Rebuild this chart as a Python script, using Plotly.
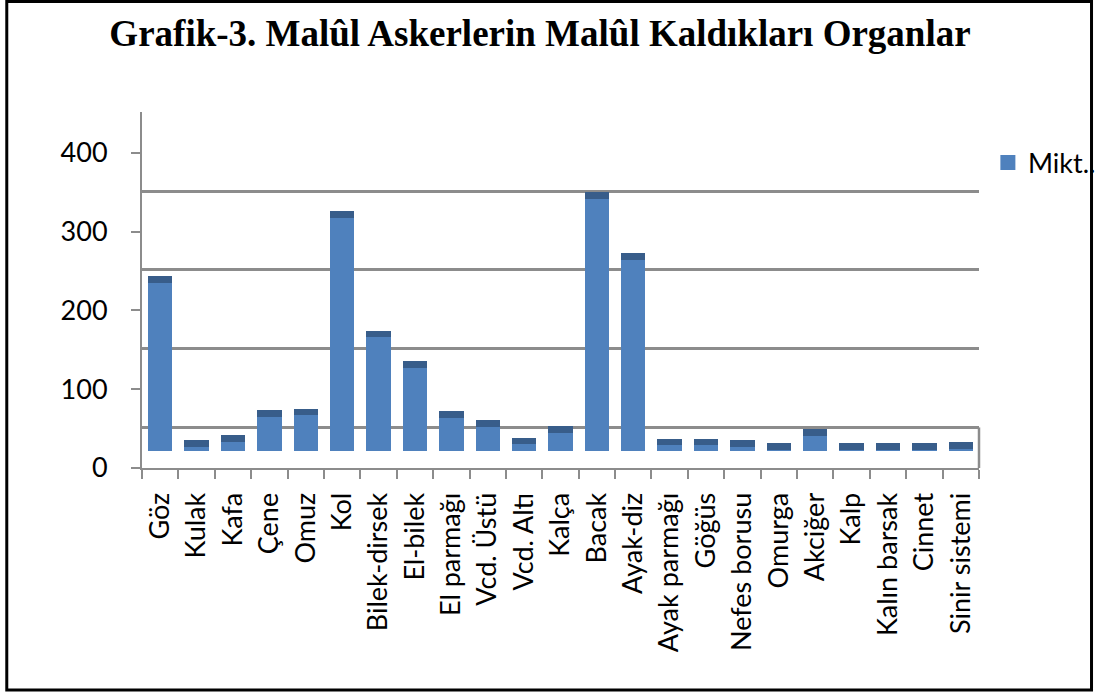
import plotly.graph_objects as go

# ---------------- data ----------------
categories = ["Göz", "Kulak", "Kafa", "Çene", "Omuz", "Kol", "Bilek-dirsek", "El-bilek",
              "El parmağı", "Vcd. Üstü", "Vcd. Altı", "Kalça", "Bacak", "Ayak-diz",
              "Ayak parmağı", "Göğüs", "Nefes borusu", "Omurga", "Akciğer", "Kalp",
              "Kalın barsak", "Cinnet", "Sinir sistemi"]
miktar = [213, 5, 11, 43, 45, 296, 144, 105, 42, 30, 8, 23, 320, 242,
          7, 7, 5, 1, 19, 1, 1, 1, 2]
y_ticks = [0, 100, 200, 300, 400]
series_name = "Mikt.."
title_text = "Grafik-3. Malûl Askerlerin Malûl Kaldıkları Organlar"

# ---------------- styling / geometry ----------------
W, H = 1113, 695
L, T = 142, 112
R = W - 990
B = H - 468
PW, PH = W - L - R, H - T - B
FRONT_TOP = 452.0            # front value-axis range top
BAR_OFFSET = 22.0            # bars stand on the mid-depth floor
BACK_OFFSET = 51.5           # back wall is raised (3-D depth)
CAP = 8.4                    # visible top face of the 3-D columns
FRONT_COLOR = "#4F81BD"
CAP_COLOR = "#385D8A"
GRID = "#8C8C8C"
LABEL_FONT = "Lato"

def px_x(p):
    return (p - L) / PW

def px_y(p):
    return 1 - (p - T) / PH

fig = go.Figure()
fig.add_trace(go.Bar(x=categories, y=miktar, name=series_name,
                     marker=dict(color=FRONT_COLOR, line=dict(width=0)),
                     showlegend=False, hoverinfo="x+y"))
fig.add_trace(go.Bar(x=categories, y=[CAP] * len(categories), name="cap",
                     marker=dict(color=CAP_COLOR, line=dict(width=0)),
                     showlegend=False, hoverinfo="skip"))
# legend entry (larger square swatch like the original)
fig.add_trace(go.Scatter(x=[None], y=[None], mode="markers", name=series_name,
                         marker=dict(symbol="square", size=15, color=FRONT_COLOR),
                         showlegend=True))
# anchor traces for overlay axes
fig.add_trace(go.Scatter(x=[], y=[], yaxis="y2", showlegend=False))
fig.add_trace(go.Scatter(x=[], y=[], yaxis="y3", showlegend=False))

fig.update_layout(
    width=W, height=H,
    margin=dict(l=L, r=R, t=T, b=B, pad=0),
    paper_bgcolor="white", plot_bgcolor="rgba(0,0,0,0)",
    barmode="stack", bargap=0.33,
    title=dict(text="<b>" + title_text + "</b>",
               font=dict(family="Liberation Serif", size=37, color="black"),
               x=540 / W, xref="container", xanchor="center",
               y=1 - 33 / H, yref="container", yanchor="middle"),
    xaxis=dict(type="category", tickangle=-90, tickson="boundaries",
               ticks="outside", ticklen=9, tickwidth=2, tickcolor=GRID,
               showline=True, linecolor=GRID, linewidth=2,
               showgrid=False, ticklabelstandoff=12, automargin=False,
               tickfont=dict(family=LABEL_FONT, size=27, color="black"),
               range=[-0.5, len(categories) - 0.5]),
    yaxis=dict(range=[-BAR_OFFSET, FRONT_TOP - BAR_OFFSET], showgrid=False,
               showticklabels=False, ticks="", showline=False, zeroline=False),
    yaxis2=dict(overlaying="y", side="left", range=[0, FRONT_TOP],
                tickvals=y_ticks, ticks="outside", ticklen=9, tickwidth=2,
                tickcolor=GRID, showline=True, linecolor=GRID, linewidth=2,
                showgrid=False, zeroline=False, ticklabelstandoff=18,
                automargin=False,
                tickfont=dict(family=LABEL_FONT, size=27, color="black")),
    yaxis3=dict(overlaying="y", side="left", range=[-BACK_OFFSET, FRONT_TOP - BACK_OFFSET],
                tickvals=y_ticks, showticklabels=False, ticks="",
                showgrid=True, gridcolor=GRID, gridwidth=2.5,
                zeroline=False, showline=False),
    legend=dict(x=px_x(999), y=px_y(163), xanchor="left", yanchor="middle",
                font=dict(family=LABEL_FONT, size=27, color="black"),
                bgcolor="rgba(0,0,0,0)", borderwidth=0, itemwidth=30),
    showlegend=True,
)

# floor right edge (3-D depth)
fig.add_shape(type="line", xref="x domain", yref="y3", x0=1, x1=1,
              y0=0, y1=-BACK_OFFSET, line=dict(color=GRID, width=2.5))
# outer frame of the figure
fig.add_shape(type="rect", xref="paper", yref="paper",
              x0=px_x(5), x1=px_x(1104), y0=px_y(690), y1=px_y(1.5),
              line=dict(color="black", width=3), layer="above")

fig.write_html("out.html", config={"displayModeBar": False},
               post_script="document.body.style.margin='0px';"
                           "document.body.style.overflow='hidden';")
